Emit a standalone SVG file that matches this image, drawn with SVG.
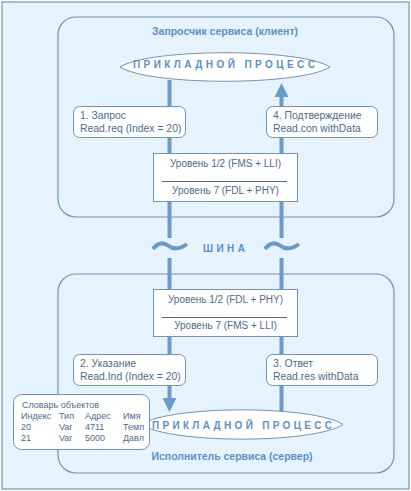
<svg xmlns="http://www.w3.org/2000/svg" width="411" height="491" viewBox="0 0 411 491">
<style>
.frame{fill:#e6f2fc;stroke:#6f94bb;stroke-width:1.2}
.box{fill:#ffffff;stroke:#6f94bb;stroke-width:1}
.lens{fill:#ffffff;stroke:#6f94bb;stroke-width:1}
.bar{stroke:#6a9acc;stroke-width:4;fill:none}
.wave{stroke:#6a9acc;stroke-width:4;fill:none;stroke-linecap:butt}
.head{fill:#6a9acc}
.t{font-family:"Liberation Sans",Arial,sans-serif;font-size:10.4px;fill:#4d6a8c}
.l{font-family:"Liberation Sans",Arial,sans-serif;font-size:10px;fill:#4d6a8c}
.s{font-family:"Liberation Sans",Arial,sans-serif;font-size:9px;fill:#4d6a8c}
.b{font-family:"Liberation Sans",Arial,sans-serif;font-size:10px;font-weight:bold;fill:#5a8fcc}
.c{text-anchor:middle}
</style>
<rect class="frame" x="2" y="2" width="407" height="487"/>
<rect id="client" class="frame" x="58" y="17" width="336" height="200" rx="18"/>
<rect id="server" class="frame" x="58" y="274" width="336" height="199" rx="18"/>
<text class="b c" x="225" y="35" textLength="146" lengthAdjust="spacingAndGlyphs">Запросчик сервиса (клиент)</text>
<text class="b c" x="232" y="460" textLength="161" lengthAdjust="spacingAndGlyphs">Исполнитель сервиса (сервер)</text>
<g id="connectors">
<line class="bar" x1="169.5" y1="80" x2="169.5" y2="238"/>
<line class="bar" x1="169.5" y1="258" x2="169.5" y2="399"/>
<polygon class="head" points="162.5,398 176.5,398 169.5,412"/>
<line class="bar" x1="281.5" y1="96" x2="281.5" y2="238"/>
<line class="bar" x1="281.5" y1="258" x2="281.5" y2="412"/>
<polygon class="head" points="274.5,97 288.5,97 281.5,83"/>
<path class="wave" d="M153,249 Q160,240 168,245.5 Q176,252 187,244"/>
<path class="wave" d="M265,249 Q272,240 280,245.5 Q288,252 299,244"/>
</g>
<text id="bus" class="b" x="203" y="252" textLength="42" lengthAdjust="spacing">ШИНА</text>
<g id="app-client">
<path class="lens" d="M120,67 C150,48 300,48 330,67 C300,86 150,86 120,67 Z"/>
<text class="b" x="133" y="68" textLength="182" lengthAdjust="spacing">ПРИКЛАДНОЙ ПРОЦЕСС</text>
</g>
<g id="req">
<rect class="box" x="73.5" y="106.5" width="112" height="31" rx="6"/>
<text class="t" x="80" y="119">1. Запрос</text>
<text class="t" x="80" y="132">Read.req (Index = 20)</text>
</g>
<g id="con">
<rect class="box" x="266.5" y="106.5" width="111" height="31" rx="6"/>
<text class="t" x="273" y="119">4. Подтверждение</text>
<text class="t" x="273" y="132">Read.con withData</text>
</g>
<g id="levels-client">
<rect class="box" x="153.5" y="153.5" width="144" height="48"/>
<text class="l c" x="225.5" y="167">Уровень 1/2 (FMS + LLI)</text>
<line x1="162" y1="181.5" x2="287" y2="181.5" stroke="#4d6a8c" stroke-width="1"/>
<text class="l c" x="225.5" y="194">Уровень 7 (FDL + PHY)</text>
</g>
<g id="levels-server">
<rect class="box" x="153.5" y="289.5" width="144" height="47"/>
<text class="l c" x="225.5" y="303">Уровень 1/2 (FDL + PHY)</text>
<line x1="162" y1="317.5" x2="287" y2="317.5" stroke="#4d6a8c" stroke-width="1"/>
<text class="l c" x="225.5" y="329">Уровень 7 (FMS + LLI)</text>
</g>
<g id="ind">
<rect class="box" x="73.5" y="354.5" width="112" height="31" rx="6"/>
<text class="t" x="80" y="367">2. Указание</text>
<text class="t" x="80" y="380">Read.Ind (Index = 20)</text>
</g>
<g id="res">
<rect class="box" x="266.5" y="354.5" width="111" height="31" rx="6"/>
<text class="t" x="273" y="367">3. Ответ</text>
<text class="t" x="273" y="380">Read.res withData</text>
</g>
<g id="app-server">
<path class="lens" d="M141,424.5 C171,405 313,405 343,424.5 C313,444 171,444 141,424.5 Z"/>
<text class="b" x="152" y="429" textLength="180" lengthAdjust="spacing">ПРИКЛАДНОЙ ПРОЦЕСС</text>
</g>
<g id="dictionary">
<rect class="box" x="13.5" y="394.5" width="136" height="55" rx="8"/>
<text class="s" x="22" y="408">Словарь объектов</text>
<text class="s" x="21" y="419">Индекс</text>
<text class="s" x="59" y="419">Тип</text>
<text class="s" x="85" y="419">Адрес</text>
<text class="s" x="123" y="419">Имя</text>
<text class="s" x="21" y="430">20</text>
<text class="s" x="59" y="430">Var</text>
<text class="s" x="85" y="430">4711</text>
<text class="s" x="123" y="430">Темп</text>
<text class="s" x="21" y="441">21</text>
<text class="s" x="59" y="441">Var</text>
<text class="s" x="85" y="441">5000</text>
<text class="s" x="123" y="441">Давл</text>
</g>
</svg>
